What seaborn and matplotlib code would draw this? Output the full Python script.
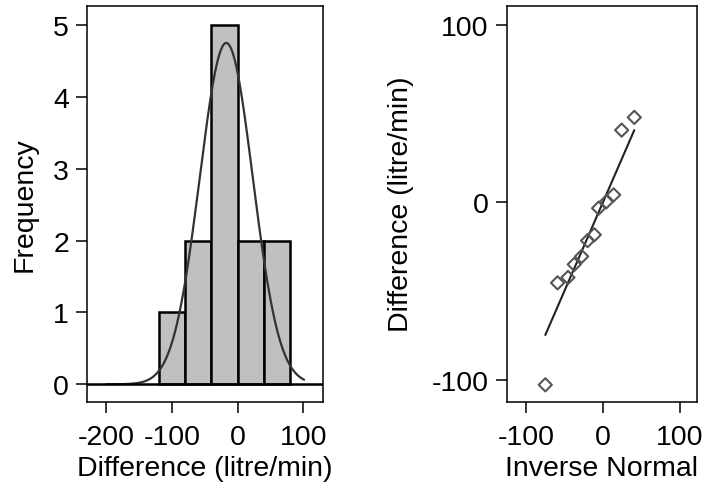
import numpy as np
import pandas as pd
import matplotlib
matplotlib.use("Agg")
import matplotlib.pyplot as plt
import seaborn as sns

# Differences between paired readings (litre/min), sorted
difference = [-103.0, -45.5, -42.5, -35.1, -30.6, -21.7, -18.4, -3.4, 0.2, 4.1, 40.6, 47.8]
# Matching inverse-normal quantiles
inverse_normal = [-74.9, -59.0, -45.5, -37.3, -27.8, -20.0, -11.3, -5.7, 4.3, 13.8, 24.2, 40.6]

bin_edges = [-120, -80, -40, 0, 40, 80]
hist_xticks = [-200, -100, 0, 100]
hist_yticks = [0, 1, 2, 3, 4, 5]
qq_ticks = [-100, 0, 100]

sns.set_style("ticks")
plt.rcParams["font.family"] = ["Liberation Sans", "DejaVu Sans"]
plt.rcParams["font.size"] = 20.5
plt.rcParams["axes.unicode_minus"] = False
plt.rcParams["text.color"] = "black"
plt.rcParams["axes.labelcolor"] = "black"
plt.rcParams["xtick.color"] = "black"
plt.rcParams["ytick.color"] = "black"

df = pd.DataFrame({"difference": difference, "inverse_normal": inverse_normal})

fig = plt.figure(figsize=(7.03, 4.85), dpi=100)
ax1 = fig.add_axes([87 / 703, 1 - 402.5 / 485, (322.5 - 87) / 703, (402.5 - 7) / 485])
ax2 = fig.add_axes([506.7 / 703, 1 - 402.5 / 485, (697 - 506.7) / 703, (402.5 - 7) / 485])

# Histogram with fitted normal density scaled to counts
sns.histplot(data=df, x="difference", bins=bin_edges, stat="count",
             color="#c0c0c0", edgecolor="black", linewidth=1.8, alpha=1, ax=ax1)
mu = np.mean(difference)
sd = np.std(difference, ddof=1)
width = bin_edges[1] - bin_edges[0]
grid = np.linspace(-200, 101, 400)
dens = len(difference) * width * np.exp(-0.5 * ((grid - mu) / sd) ** 2) / (sd * np.sqrt(2 * np.pi))
sns.lineplot(x=grid, y=dens, color="#333333", linewidth=1.6, ax=ax1)
ax1.axhline(0, color="black", linewidth=1.8, zorder=3)
ax1.set_xlim(-229, 129)
ax1.set_ylim(-0.24, 5.27)
ax1.set_xticks(hist_xticks)
ax1.set_yticks(hist_yticks)
ax1.set_xlabel("Difference (litre/min)", labelpad=3)
ax1.set_ylabel("Frequency", labelpad=11)

# Normal quantile plot
sns.lineplot(x=[min(inverse_normal), max(inverse_normal)],
             y=[min(inverse_normal), max(inverse_normal)],
             color="#222222", linewidth=1.5, ax=ax2)
sns.scatterplot(data=df, x="inverse_normal", y="difference", marker="D",
                s=45, facecolor="none", edgecolor="#555555", linewidth=1.5, ax=ax2, zorder=3)
ax2.set_xlim(-125, 122)
ax2.set_ylim(-112.4, 110.6)
ax2.set_xticks(qq_ticks)
ax2.set_yticks(qq_ticks)
ax2.set_xlabel("Inverse Normal", labelpad=3)
ax2.set_ylabel("Difference (litre/min)", labelpad=12.5)

for ax in (ax1, ax2):
    for sp in ax.spines.values():
        sp.set_visible(True)
        sp.set_linewidth(1.1)
        sp.set_color("black")
    ax.tick_params(length=8, width=1.1, labelsize=20.5, color="black")
    ax.tick_params(axis="x", pad=8.5)
    ax.tick_params(axis="y", pad=5)

fig.savefig("out.png", dpi=100)
